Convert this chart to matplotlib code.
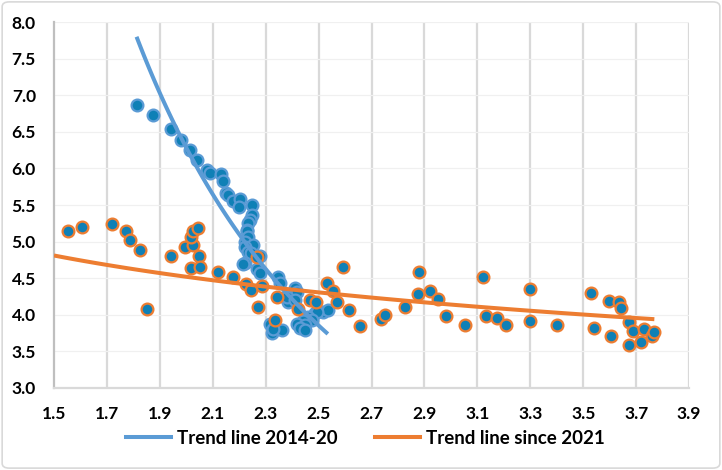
import matplotlib
matplotlib.use("Agg")
import matplotlib.pyplot as plt
from matplotlib.lines import Line2D
from matplotlib.patches import FancyBboxPatch
import numpy as np

# ---- data: 2014-20 observations ----
blue_x = [1.814, 1.875, 1.941, 1.981, 2.014, 2.042, 2.077, 2.090, 2.130, 2.137,
          2.150, 2.159, 2.178, 2.203, 2.200, 2.247, 2.247, 2.241, 2.234, 2.228,
          2.228, 2.234, 2.222, 2.253, 2.222, 2.234, 2.245, 2.278, 2.222, 2.215,
          2.266, 2.278, 2.348, 2.354, 2.373, 2.411, 2.417, 2.386, 2.379, 2.411,
          2.486, 2.518, 2.537, 2.493, 2.461, 2.474, 2.442, 2.417, 2.449, 2.430,
          2.449, 2.316, 2.323, 2.361, 2.329]
blue_y = [6.87, 6.73, 6.54, 6.39, 6.25, 6.11, 5.98, 5.94, 5.93, 5.83,
          5.67, 5.64, 5.55, 5.58, 5.48, 5.50, 5.37, 5.29, 5.25, 5.16,
          5.14, 5.07, 5.00, 4.95, 4.93, 4.86, 4.84, 4.80, 4.71, 4.70,
          4.62, 4.57, 4.52, 4.43, 4.25, 4.36, 4.31, 4.18, 4.25, 4.20,
          4.02, 4.04, 4.06, 4.04, 3.97, 3.93, 3.91, 3.88, 3.86, 3.82,
          3.79, 3.87, 3.75, 3.79, 3.80]

# ---- data: since 2021 observations ----
orange_x = [1.553, 1.605, 1.719, 1.771, 1.786, 1.824, 1.853, 1.942, 1.994, 2.026,
            2.017, 2.024, 2.044, 2.049, 2.017, 2.052, 2.120, 2.175, 2.266, 2.225,
            2.245, 2.287, 2.272, 2.342, 2.335, 2.423, 2.467, 2.490, 2.531, 2.556,
            2.568, 2.593, 2.616, 2.656, 2.735, 2.751, 2.826, 2.881, 2.874, 2.921,
            2.952, 2.980, 3.053, 3.120, 3.133, 3.175, 3.208, 3.299, 3.299, 3.400,
            3.528, 3.541, 3.596, 3.605, 3.635, 3.644, 3.673, 3.687, 3.672, 3.718,
            3.730, 3.759, 3.767]
orange_y = [5.14, 5.20, 5.24, 5.14, 5.02, 4.89, 4.08, 4.80, 4.92, 4.95,
            5.06, 5.15, 5.19, 4.80, 4.64, 4.66, 4.59, 4.52, 4.79, 4.42,
            4.34, 4.40, 4.11, 4.25, 3.93, 4.08, 4.20, 4.18, 4.43, 4.33,
            4.17, 4.66, 4.06, 3.85, 3.94, 4.00, 4.10, 4.58, 4.28, 4.33,
            4.22, 3.99, 3.86, 4.51, 3.98, 3.96, 3.86, 4.35, 3.91, 3.86,
            4.30, 3.82, 4.19, 3.71, 4.17, 4.09, 3.90, 3.78, 3.59, 3.63,
            3.81, 3.71, 3.77]

# ---- power trend lines y = a * x^b ----
trend_blue_a, trend_blue_b = 28.67, -2.19
trend_blue_range = (1.812, 2.535)
trend_orange_a, trend_orange_b = 5.252, -0.2166
trend_orange_range = (1.5, 3.769)

legend_labels = ["Trend line 2014-20", "Trend line since 2021"]
x_ticks = [1.5, 1.7, 1.9, 2.1, 2.3, 2.5, 2.7, 2.9, 3.1, 3.3, 3.5, 3.7, 3.9]
y_ticks = [3.0, 3.5, 4.0, 4.5, 5.0, 5.5, 6.0, 6.5, 7.0, 7.5, 8.0]

FILL = "#0f80b6"
BLUE = "#5b9bd5"
ORANGE = "#ed7d31"

plt.rcParams['font.family'] = ['Lato', 'DejaVu Sans']

fig = plt.figure(figsize=(7.22, 4.70), dpi=100)
fig.patches.append(FancyBboxPatch((0.003, 0.004), 0.994, 0.992,
                                  boxstyle="round,pad=0,rounding_size=0.01",
                                  transform=fig.transFigure, fc="white",
                                  ec="#d9d9d9", lw=1.2, zorder=-10))
ax = fig.add_axes([0.0748, 0.1745, 0.8795, 0.7785])
ax.set_facecolor("none")

ax.set_xlim(1.5, 3.9)
ax.set_ylim(3.0, 8.0)
ax.set_xticks(x_ticks)
ax.set_yticks(y_ticks)
ax.set_xticklabels([f"{v:.1f}" for v in x_ticks])
ax.set_yticklabels([f"{v:.1f}" for v in y_ticks])

for v in x_ticks[1:]:
    ax.axvline(v, color="#d9d9d9", lw=1.6, zorder=0)
for v in y_ticks[1:]:
    ax.axhline(v, color="#f0f0f0", lw=0.9, zorder=0)

for s in ["top", "right"]:
    ax.spines[s].set_visible(False)
ax.spines["left"].set_color("#bfbfbf")
ax.spines["left"].set_linewidth(1.6)
ax.spines["bottom"].set_color("#d9d9d9")
ax.spines["bottom"].set_linewidth(1.6)

ax.tick_params(axis="both", length=0, labelsize=12.5)
ax.tick_params(axis="x", pad=13)
ax.tick_params(axis="y", pad=13)
for lab in ax.get_xticklabels() + ax.get_yticklabels():
    lab.set_fontweight("bold")
    lab.set_color("#000000")

ax.scatter(blue_x, blue_y, s=72, c=FILL, edgecolors=BLUE, linewidths=1.6, zorder=3)
ax.scatter(orange_x, orange_y, s=72, c=FILL, edgecolors=ORANGE, linewidths=1.6, zorder=4)

tb = np.linspace(*trend_blue_range, 100)
ax.plot(tb, trend_blue_a * tb ** trend_blue_b, color=BLUE, lw=2.9, zorder=5,
        solid_capstyle="butt")
to = np.linspace(*trend_orange_range, 100)
ax.plot(to, trend_orange_a * to ** trend_orange_b, color=ORANGE, lw=2.9, zorder=5,
        solid_capstyle="butt")

handles = [Line2D([0], [0], color=BLUE, lw=2.9), Line2D([0], [0], color=ORANGE, lw=2.9)]
leg = fig.legend(handles, legend_labels, loc="center", bbox_to_anchor=(0.506, 0.068),
                 ncol=2, frameon=False, handlelength=2.4, handletextpad=0.3,
                 columnspacing=2.0, prop={"weight": "bold", "size": 13.5})

fig.savefig("out.png", dpi=100)
